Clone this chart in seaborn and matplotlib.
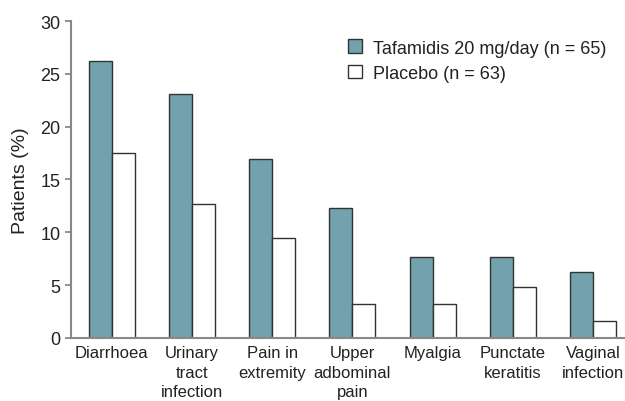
import pandas as pd
import seaborn as sns
import matplotlib.pyplot as plt

events = ['Diarrhoea', 'Urinary\ntract\ninfection', 'Pain in\nextremity',
          'Upper\nadbominal\npain', 'Myalgia', 'Punctate\nkeratitis', 'Vaginal\ninfection']
tafamidis = [26.2, 23.1, 16.9, 12.3, 7.7, 7.7, 6.2]
placebo = [17.5, 12.7, 9.5, 3.2, 3.2, 4.8, 1.6]
groups = ['Tafamidis 20 mg/day (n = 65)', 'Placebo (n = 63)']
colors = ['#71a2ad', '#ffffff']

df = pd.DataFrame({
    'event': events * 2,
    'pct': tafamidis + placebo,
    'group': [groups[0]] * len(events) + [groups[1]] * len(events),
})

sns.set_style('ticks')
plt.rcParams['font.family'] = ['Liberation Sans', 'DejaVu Sans']

fig = plt.figure(figsize=(6.25, 4.02), dpi=100)
ax = fig.add_axes([0.1136, 0.157, 0.8864, 0.788])

sns.barplot(data=df, x='event', y='pct', hue='group', palette=colors,
            width=0.575, gap=0, edgecolor='#333333', linewidth=1.0,
            saturation=1, ax=ax)

ax.set_ylim(0, 30)
ax.set_xlim(-0.51, 6.4)
ax.set_yticks([0, 5, 10, 15, 20, 25, 30])
ax.set_xlabel('')
ax.set_ylabel('Patients (%)', fontsize=14, color='#222222', labelpad=8)
ax.tick_params(axis='y', labelsize=13, colors='#888888', labelcolor='#222222',
               length=4, width=1.3, direction='out')
ax.tick_params(axis='x', labelsize=12, length=0, labelcolor='#222222', pad=5)
for lab in ax.get_xticklabels():
    lab.set_verticalalignment('top')
    lab.set_multialignment('center')
    lab.set_linespacing(1.4)

sns.despine(ax=ax)
for s in ['left', 'bottom']:
    ax.spines[s].set_color('#888888')
    ax.spines[s].set_linewidth(1.5)

leg = ax.legend(loc='upper left', bbox_to_anchor=(0.53, 0.94), bbox_transform=fig.transFigure,
                frameon=False, fontsize=13, handlelength=0.8, handleheight=0.8,
                handletextpad=0.6, labelspacing=0.45)
for t in leg.get_texts():
    t.set_color('#222222')

fig.savefig('out.png', dpi=100)
